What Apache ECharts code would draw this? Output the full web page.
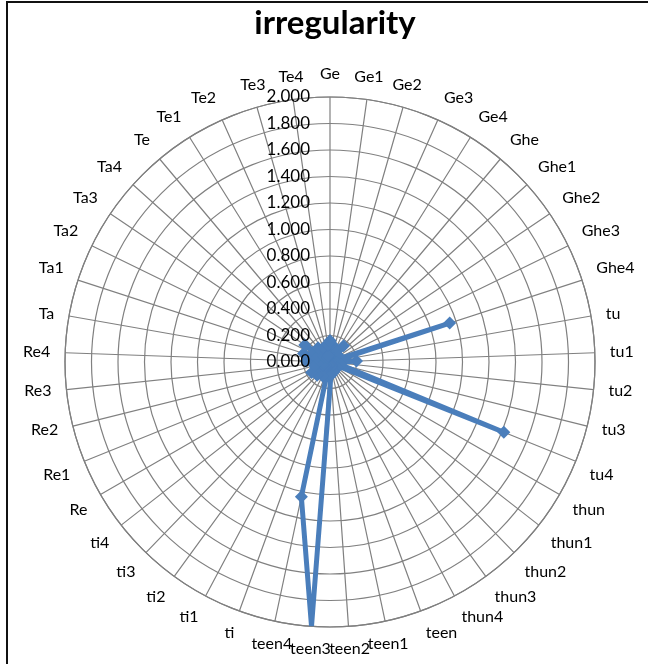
<!DOCTYPE html>
<html>
<head>
<meta charset="utf-8">
<script src="https://cdn.jsdelivr.net/npm/echarts@6/dist/echarts.min.js"></script>
<style>
  html, body { margin: 0; padding: 0; background: #fff; }
  #chart { position: absolute; left: 0; top: 0; width: 648px; height: 664px; }
  #frame { position: absolute; left: 6px; top: 1px; width: 650px; height: 670px;
           border-left: 2px solid #111; border-top: 2px solid #111; pointer-events: none; }
</style>
</head>
<body>
<div id="chart"></div>
<div id="frame"></div>
<script>
// categories round the radar, clockwise from the top
const categories = [
  'Ge', 'Ge1', 'Ge2', 'Ge3', 'Ge4',
  'Ghe', 'Ghe1', 'Ghe2', 'Ghe3', 'Ghe4',
  'tu', 'tu1', 'tu2', 'tu3', 'tu4',
  'thun', 'thun1', 'thun2', 'thun3', 'thun4',
  'teen', 'teen1', 'teen2', 'teen3', 'teen4',
  'ti', 'ti1', 'ti2', 'ti3', 'ti4',
  'Re', 'Re1', 'Re2', 'Re3', 'Re4',
  'Ta', 'Ta1', 'Ta2', 'Ta3', 'Ta4',
  'Te', 'Te1', 'Te2', 'Te3', 'Te4'
]
// irregularity values (the small ones are estimates)
const values = [
  0.16, 0.05, 0.12, 0.03, 0.10,
  0.16, 0.04, 0.08, 0.02, 0.95,
  0.03, 0.20, 0.05, 0.08, 1.415,
  0.04, 0.07, 0.02, 0.06, 0.03,
  0.08, 0.04, 0.10, 2.00, 1.04,
  0.03, 0.12, 0.05, 0.14, 0.04,
  0.16, 0.06, 0.12, 0.05, 0.18,
  0.08, 0.21, 0.10, 0.23, 0.06,
  0.14, 0.04, 0.12, 0.05, 0.13
]
const radiusMax = 2
const radiusStep = 0.2

const n = categories.length
const lineData = values.map((v, i) => [v, i])
lineData.push([values[0], n]) // close the loop

const gridColor = '#808080'
const center = [330, 362]

const chart = echarts.init(document.getElementById('chart'))
chart.setOption({
  animation: false,
  title: {
    text: 'irregularity',
    left: 330,
    textAlign: 'center',
    top: 2,
    textStyle: { fontFamily: 'Lato', fontWeight: 'bold', fontSize: 33, color: '#000' }
  },
  polar: [
    { center: center, radius: 265 },
    { center: center, radius: 265 }
  ],
  angleAxis: [
    {
      polarIndex: 0,
      type: 'value',
      min: 0,
      max: n,
      interval: 1,
      startAngle: 90,
      clockwise: true,
      axisLine: { show: true, lineStyle: { color: gridColor, width: 1.2 } },
      axisTick: { show: false },
      axisLabel: {
        margin: 15,
        fontFamily: 'Lato',
        fontSize: 16,
        color: '#000',
        formatter: v => (v < n ? categories[v] : '')
      },
      splitLine: { show: true, lineStyle: { color: gridColor, width: 1.2 } }
    },
    {
      // only used to carry the value labels above the line
      polarIndex: 1,
      type: 'value',
      min: 0,
      max: n,
      startAngle: 90,
      clockwise: true,
      show: false
    }
  ],
  radiusAxis: [
    {
      polarIndex: 0,
      type: 'value',
      min: 0,
      max: radiusMax,
      interval: radiusStep,
      axisLine: { show: false },
      axisTick: { show: false },
      axisLabel: { show: false },
      splitLine: { show: true, lineStyle: { color: gridColor, width: 1.2 } }
    },
    {
      polarIndex: 1,
      type: 'value',
      min: 0,
      max: radiusMax,
      interval: radiusStep,
      axisLine: { show: false },
      axisTick: { show: false },
      splitLine: { show: false },
      axisLabel: {
        fontFamily: 'Lato',
        fontSize: 17,
        color: '#000',
        margin: 20,
        formatter: v => v.toFixed(3)
      },
      z: 20
    }
  ],
  series: [
    {
      type: 'line',
      coordinateSystem: 'polar',
      polarIndex: 0,
      data: lineData,
      symbol: 'diamond',
      symbolSize: 13,
      showAllSymbol: true,
      lineStyle: { color: '#4A7EBB', width: 5 },
      itemStyle: { color: '#4A7EBB' },
      z: 5
    }
  ]
})
</script>
</body>
</html>
